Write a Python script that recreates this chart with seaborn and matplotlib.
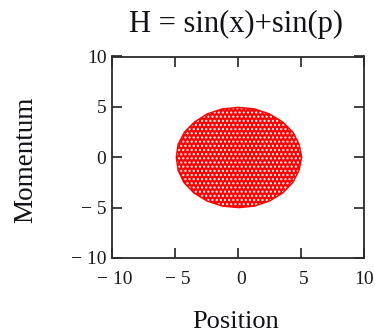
import numpy as np
import pandas as pd
import matplotlib
matplotlib.use("Agg")
import matplotlib.pyplot as plt
import matplotlib.transforms as mtransforms
import seaborn as sns

# Outline of the particle cloud in phase space (position, momentum)
cloud_x = [5.05, 4.85, 4.35, 3.55, 2.5, 1.3, 0.05, -1.25, -2.45, -3.45, -4.25, -4.75,
           -4.9, -4.75, -4.3, -3.5, -2.45, -1.25, 0.05, 1.3, 2.5, 3.55, 4.35, 4.85, 5.05]
cloud_p = [0.0, 1.3, 2.5, 3.5, 4.3, 4.8, 4.95, 4.8, 4.3, 3.5, 2.5, 1.3,
           0.0, -1.3, -2.5, -3.55, -4.35, -4.85, -5.0, -4.85, -4.35, -3.55, -2.5, -1.3, 0.0]

tick_values = [-10, -5, 0, 5, 10]
tick_labels = ["\u2212 10", "\u2212 5", "0", "5", "10"]

title_text = "H = sin(x)+sin(p)"
xlabel_text = "Position"
ylabel_text = "Momentum"

sns.set_style("ticks")
plt.rcParams["font.family"] = ["Liberation Serif", "DejaVu Serif"]
plt.rcParams["hatch.linewidth"] = 1.0

W, H = 375, 336
fig = plt.figure(figsize=(W / 100, H / 100), dpi=100)
ax = fig.add_axes([112 / W, 1 - 258 / H, (364 - 112) / W, (258 - 56.5) / H])

df = pd.DataFrame({"Position": cloud_x, "Momentum": cloud_p})
# speckled red cloud: red fill with a fine white dot hatch
ax.fill(df["Position"], df["Momentum"], facecolor="#ff0000", edgecolor="white",
        linewidth=0, hatch="....", zorder=2)
sns.lineplot(data=df, x="Position", y="Momentum", sort=False, estimator=None,
             color="#ff0000", linewidth=1.0, ax=ax, zorder=3)

ax.set_xlim(-10, 10)
ax.set_ylim(-10, 10)
ax.set_xticks(tick_values)
ax.set_yticks(tick_values)
ax.set_xticklabels(tick_labels)
ax.set_yticklabels(tick_labels)
ax.tick_params(direction="in", length=7, width=1.3, color="#333333",
               labelsize=14, labelcolor="#1a1a1a", top=True, right=True)
ax.tick_params(axis="x", pad=9)
ax.tick_params(axis="y", pad=4)
ax.set_xlabel("")
ax.set_ylabel("")
for s in ax.spines.values():
    s.set_visible(True)
    s.set_color("#2a2a2a")
    s.set_linewidth(1.3)

# nudge the inner x tick labels slightly to the right (last one stays inside the figure)
shift = mtransforms.ScaledTranslation(3 / 100, 0, fig.dpi_scale_trans)
for lab in ax.get_xticklabels()[:-1]:
    lab.set_transform(lab.get_transform() + shift)

fig.text(236 / W, 1 - 24 / H, title_text, ha="center", va="center", fontsize=22,
         color="#111118")
fig.text(236 / W, 1 - 322 / H, xlabel_text, ha="center", va="center", fontsize=19,
         color="#111118")
fig.text(26 / W, 1 - 160 / H, ylabel_text, ha="center", va="center", fontsize=19.5,
         rotation=90, color="#111118")

fig.savefig("out.png", dpi=100)
